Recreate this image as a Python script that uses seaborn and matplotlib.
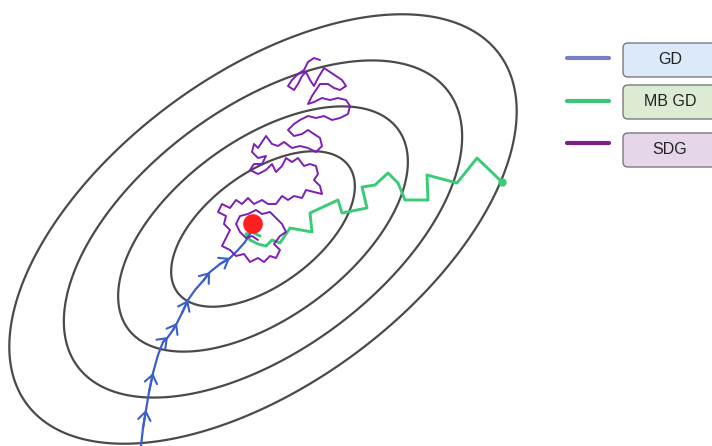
import numpy as np
import pandas as pd
import matplotlib
matplotlib.use("Agg")
import matplotlib.pyplot as plt
import seaborn as sns
from matplotlib.patches import FancyBboxPatch

# contour ellipses (relative size of each level)
levels = [0.362, 0.571, 0.785, 1.0]
center = (263, 229)
semi_axes = (294, 155)
tilt_deg = 36.5

# GD path (pixel coords, y down)
gd_x = [141, 143, 146, 149, 153, 158, 163, 168, 173, 177, 182, 188, 195, 203, 210, 220, 230, 238, 245, 250]
gd_y = [446, 428, 410, 392, 373, 355, 342, 337, 330, 323, 313, 300, 290, 281, 272, 264, 258, 250, 242, 234]
gd_arrows = [2, 4, 7, 9, 11, 14, 16]

# mini-batch GD path
mb_x = [502, 477, 457, 427, 428, 405, 398, 388, 375, 362, 367, 342, 338, 310, 312, 290, 280, 272, 266, 258, 250, 246, 252, 260]
mb_y = [182, 158, 183, 175, 200, 200, 183, 173, 185, 187, 208, 213, 200, 213, 232, 228, 243, 240, 246, 244, 240, 234, 232, 236]

# stochastic GD path
sgd_x = [320, 314, 308, 304, 298, 292, 288, 294, 298, 302,
         306, 310, 314, 318, 324, 330, 336, 342, 346, 340,
         334, 328, 320, 316, 312, 308, 314, 322, 330, 338,
         346, 350, 348, 340, 332, 324, 316, 308, 300, 294,
         288, 294, 302, 308, 314, 320, 322, 316, 308, 300,
         292, 284, 278, 272, 266, 262, 258, 254, 252, 258,
         266, 262, 254, 250, 258, 266, 272, 276, 282, 286,
         292, 298, 304, 310, 316, 318, 314, 320, 322, 314,
         306, 302, 294, 288, 282, 276, 268, 262, 254, 248,
         242, 236, 230, 222, 218, 226, 224, 230, 226, 222,
         230, 236, 244, 250, 258, 264, 270, 276, 280, 274,
         280, 286, 282, 276, 270, 262, 256, 248, 240, 236,
         240, 246, 252, 258]
sgd_y = [60, 58, 62, 70, 74, 80, 86, 90, 84, 76,
         72, 80, 86, 78, 68, 72, 76, 80, 86, 90,
         88, 84, 84, 90, 96, 104, 102, 98, 100, 98,
         100, 106, 114, 118, 120, 116, 118, 116, 120, 124,
         130, 136, 134, 130, 134, 138, 146, 152, 148, 146,
         148, 142, 146, 144, 136, 142, 148, 144, 152, 158,
         156, 164, 164, 170, 174, 170, 164, 172, 166, 158,
         162, 158, 166, 164, 166, 174, 180, 186, 194, 192,
         190, 198, 196, 200, 196, 204, 204, 200, 204, 198,
         204, 200, 208, 204, 212, 216, 224, 230, 238, 246,
         250, 256, 254, 262, 258, 262, 256, 258, 250, 244,
         236, 232, 224, 218, 212, 214, 210, 214, 216, 224,
         232, 238, 236, 240]

optimum = (253, 224)

labels = ["GD", "MB GD", "SDG"]
legend_line_colors = ["#7a7fc4", "#3cc674", "#7b1e86"]
legend_fills = ["#dbe9fa", "#dcebd3", "#e6d6e9"]
legend_line_y = [58, 101, 143]
legend_box_y = [60, 102, 150]

sns.set_style("white")
plt.rcParams["font.family"] = ["Liberation Sans", "DejaVu Sans"]

fig = plt.figure(figsize=(7.12, 4.46), dpi=100)
ax = fig.add_axes([0, 0, 1, 1])

# ellipse contours from a quadratic bowl
X, Y = np.meshgrid(np.linspace(0, 712, 713), np.linspace(0, 446, 447))
th = np.deg2rad(tilt_deg)
dx = X - center[0]
dy = -(Y - center[1])
u = dx * np.cos(th) + dy * np.sin(th)
v = -dx * np.sin(th) + dy * np.cos(th)
Z = np.sqrt((u / semi_axes[0]) ** 2 + (v / semi_axes[1]) ** 2)
ax.contour(X, Y, Z, levels=levels, colors="#4a4a4a", linewidths=1.6)

gd_color = "#3a5fcd"
mb_color = "#3acb75"
sgd_color = "#7d1fb5"

sns.lineplot(x=mb_x, y=mb_y, sort=False, estimator=None, color=mb_color, lw=2.1, ax=ax)
ax.plot(mb_x[0], mb_y[0], "o", color=mb_color, ms=5)
sns.lineplot(x=gd_x, y=gd_y, sort=False, estimator=None, color=gd_color, lw=1.6, ax=ax)
for i in gd_arrows:
    ax.annotate("", xy=(gd_x[i], gd_y[i]), xytext=(gd_x[i - 1], gd_y[i - 1]),
                arrowprops=dict(arrowstyle="->,head_length=0.6,head_width=0.45",
                                color=gd_color, lw=1.5, shrinkA=0, shrinkB=0))
sns.lineplot(x=sgd_x, y=sgd_y, sort=False, estimator=None, color=sgd_color, lw=1.4, ax=ax)

sns.scatterplot(x=[optimum[0]], y=[optimum[1]], color="#ff1f1f", s=200, edgecolor="none", ax=ax, zorder=5)

# legend made of lines and rounded boxes
for lab, lc, fc, ly, by in zip(labels, legend_line_colors, legend_fills, legend_line_y, legend_box_y):
    ax.plot([567, 609], [ly, ly], color=lc, lw=3, solid_capstyle="round")
    box = FancyBboxPatch((623, by - 17), 110, 34, boxstyle="round,pad=0,rounding_size=5",
                         facecolor=fc, edgecolor="#7a7a7a", lw=1.0)
    ax.add_patch(box)
    ax.text(670, by, lab, ha="center", va="center", fontsize=11.5, color="#222222")

ax.set_xlim(0, 712)
ax.set_ylim(446, 0)
ax.axis("off")
fig.savefig("out.png", dpi=100)
